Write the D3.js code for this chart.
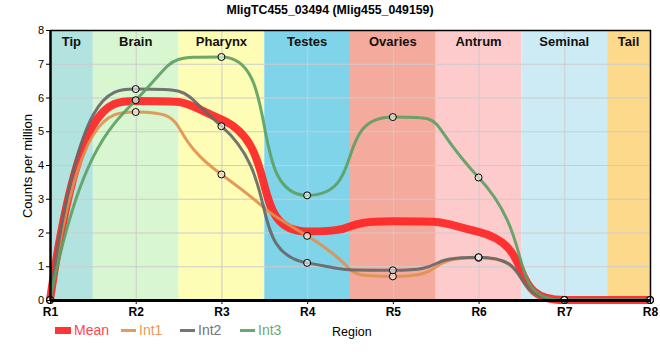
<!DOCTYPE html>
<html><head><meta charset="utf-8">
<script src="https://cdn.jsdelivr.net/npm/d3@7"></script>
<style>body{margin:0;background:#fff}svg{display:block;font-family:"Liberation Sans",Arial,sans-serif}</style>
</head><body><svg id="c" width="660" height="360"></svg>
<script>
const titleText = "MligTC455_03494 (Mlig455_049159)";
const regions = ["R1","R2","R3","R4","R5","R6","R7","R8"];
const bandNames = ["Tip","Brain","Pharynx","Testes","Ovaries","Antrum","Seminal","Tail"];
const bandColors = ["#b3e3de","#d8f6d0","#fdfdb6","#80d4ea","#f4ab9e","#fdcbcc","#cdebf4","#fcd98b"];
const yTicks = [0,1,2,3,4,5,6,7,8];
const meanValues = [0, 5.9, 5.35, 2.03, 2.33, 2.02, 0, 0];
const int1Values = [0, 5.57, 3.72, 1.9, 0.7, 1.25, 0, 0];
const int2Values = [0, 6.25, 5.15, 1.1, 0.88, 1.27, 0, 0];
const int3Values = [0, 5.92, 7.2, 3.1, 5.42, 3.63, 0, 0];
const seriesNames = ["Mean","Int1","Int2","Int3"];
const seriesColors = ["#ff2424","#e0904f","#666666","#5c9e62"];
const legendColors = ["#ff4455","#e8995a","#737382","#6aaa75"];

const svg = d3.select("#c");
const x = d3.scalePoint().domain(regions).range([50,650]);
const y = d3.scaleLinear().domain([0,8]).range([300,30]);

// bands
const bx = regions.map((r,i)=>{
  const x0 = i===0 ? x(r) : (x(regions[i-1])+x(r))/2;
  const x1 = i===regions.length-1 ? x(r) : (x(r)+x(regions[i+1]))/2;
  return [x0,x1];
});
const gB = svg.append("g");
gB.selectAll("rect").data(bandNames).join("rect")
  .attr("x",(d,i)=>bx[i][0]).attr("width",(d,i)=>bx[i][1]-bx[i][0])
  .attr("y",y(8)).attr("height",y(0)-y(8)).attr("fill",(d,i)=>bandColors[i]);

// grid
const gG = svg.append("g").attr("stroke","#cccccc").attr("stroke-width",1);
gG.selectAll("line.h").data(yTicks.slice(1,-1)).join("line").attr("class","h")
  .attr("x1",x("R1")).attr("x2",x("R8")).attr("y1",d=>y(d)+0.5).attr("y2",d=>y(d)+0.5);
gG.selectAll("line.v").data(regions.slice(1,-1)).join("line").attr("class","v")
  .attr("x1",d=>x(d)+0.5).attr("x2",d=>x(d)+0.5).attr("y1",y(8)).attr("y2",y(0));

// band labels
svg.append("g").selectAll("text").data(bandNames).join("text")
  .attr("x",(d,i)=>(bx[i][0]+bx[i][1])/2).attr("y",46)
  .attr("text-anchor","middle").attr("font-size",13).attr("font-weight","bold").attr("fill","#111")
  .text(d=>d);

// custom smooth curve
function SoftCurve(context){this._context=context;}
SoftCurve.prototype={
  areaStart(){this._line=0;}, areaEnd(){this._line=NaN;},
  lineStart(){this._x=[];this._y=[];},
  point(px,py){this._x.push(+px);this._y.push(+py);},
  lineEnd(){
    const X=this._x,Y=this._y,n=X.length,c=this._context,K=0.7;
    if(!n) return;
    c.moveTo(X[0],Y[0]);
    if(n===1) return;
    const s=[];
    for(let i=0;i<n-1;i++) s.push((Y[i+1]-Y[i])/(X[i+1]-X[i]));
    const m=new Array(n).fill(0);
    for(let i=1;i<n-1;i++){
      const h0=X[i]-X[i-1],h1=X[i+1]-X[i],p=(s[i-1]*h1+s[i]*h0)/(h0+h1);
      m[i]=((Math.sign(s[i-1])+Math.sign(s[i]))*Math.min(Math.abs(s[i-1]),Math.abs(s[i]),0.5*Math.abs(p)))||0;
    }
    if(n>2){m[0]=3*s[0]-2*m[1];m[n-1]=3*s[n-2]-2*m[n-2];}else{m[0]=m[1]=s[0];}
    for(let i=0;i<n-1;i++){
      const x0=X[i],y0=Y[i],x1=X[i+1],y1=Y[i+1],h=x1-x0;
      const lo=Math.min(y0,y1),hi=Math.max(y0,y1);
      const edge=(i===0||i===n-2);
      let a0=edge?h/3:K*h, a1=edge?h/3:K*h;
      if(m[i]!==0){const yc=y0+a0*m[i]; if(yc>hi+1e-9)a0=(hi-y0)/m[i]; else if(yc<lo-1e-9)a0=(lo-y0)/m[i]; if(a0<0)a0=0;}
      if(m[i+1]!==0){const yc=y1-a1*m[i+1]; if(yc>hi+1e-9)a1=(y1-hi)/m[i+1]; else if(yc<lo-1e-9)a1=(y1-lo)/m[i+1]; if(a1<0)a1=0;}
      c.bezierCurveTo(x0+a0,y0+a0*m[i],x1-a1,y1-a1*m[i+1],x1,y1);
    }
  }
};
const curveSoft = ctx=>new SoftCurve(ctx);
const line = d3.line().x((d,i)=>x(regions[i])).y(d=>y(d)).curve(curveSoft);

const allSeries = [meanValues,int1Values,int2Values,int3Values];
const widths = [8,3,3,3];
const gL = svg.append("g").attr("fill","none").attr("stroke-linejoin","round").attr("stroke-linecap","round");
allSeries.forEach((vals,si)=>{
  gL.append("path").attr("d",line(vals)).attr("stroke",seriesColors[si])
    .attr("stroke-width",widths[si]).attr("stroke-opacity",si===0?0.92:0.9);
});

// points for Int series
const gP = svg.append("g");
[int1Values,int2Values,int3Values].forEach(vals=>{
  gP.selectAll(null).data(vals).join("circle")
    .attr("cx",(d,i)=>x(regions[i])).attr("cy",d=>y(d)).attr("r",3.5)
    .attr("fill","#ffffff").attr("fill-opacity",0.55).attr("stroke","#000").attr("stroke-width",1);
});

// border top/right
svg.append("line").attr("x1",x("R1")).attr("x2",x("R8")+1).attr("y1",y(8)+0.5).attr("y2",y(8)+0.5).attr("stroke","#000").attr("stroke-width",1.5);
svg.append("line").attr("x1",x("R8")+0.5).attr("x2",x("R8")+0.5).attr("y1",y(8)).attr("y2",y(0)).attr("stroke","#000").attr("stroke-width",1.5);

// axes
const ay = svg.append("g").attr("transform","translate(50,0)")
  .call(d3.axisLeft(y).tickValues(yTicks).tickSize(4).tickSizeOuter(0).tickPadding(2));
ay.select(".domain").attr("stroke","#000").attr("stroke-width",2.5);
ay.selectAll(".tick text").attr("font-size",11).attr("fill","#000").attr("font-family","Liberation Sans, Arial, sans-serif");
const ax = svg.append("g").attr("transform","translate(0,300)")
  .call(d3.axisBottom(x).tickSize(4).tickSizeOuter(0).tickPadding(3));
ax.select(".domain").attr("stroke","#000").attr("stroke-width",3);
ax.selectAll(".tick text").attr("font-size",12).attr("font-weight","bold").attr("fill","#000").attr("font-family","Liberation Sans, Arial, sans-serif");

// title and axis titles
svg.append("text").attr("x",330).attr("y",14).attr("text-anchor","middle")
  .attr("font-size",12.3).attr("font-weight","bold").attr("fill","#000").text(titleText);
svg.append("text").attr("transform","translate(32,166) rotate(-90)").attr("text-anchor","middle")
  .attr("font-size",13).attr("fill","#000").text("Counts per million");
svg.append("text").attr("x",332).attr("y",336).attr("font-size",12.5).attr("fill","#000").text("Region");

// legend
const legX = [55,121,180,240];
const gLeg = svg.append("g");
seriesNames.forEach((nm,i)=>{
  if(i===0){
    gLeg.append("rect").attr("x",legX[i]).attr("y",327).attr("width",16).attr("height",7).attr("fill",seriesColors[i]).attr("fill-opacity",0.92);
  } else {
    gLeg.append("line").attr("x1",legX[i]).attr("x2",legX[i]+15).attr("y1",330.5).attr("y2",330.5)
      .attr("stroke",seriesColors[i]).attr("stroke-width",3).attr("stroke-opacity",0.9);
  }
  gLeg.append("text").attr("x",legX[i]+(i===0?19:18)).attr("y",335).attr("font-size",14)
    .attr("fill",legendColors[i]).text(nm);
});
</script></body></html>
